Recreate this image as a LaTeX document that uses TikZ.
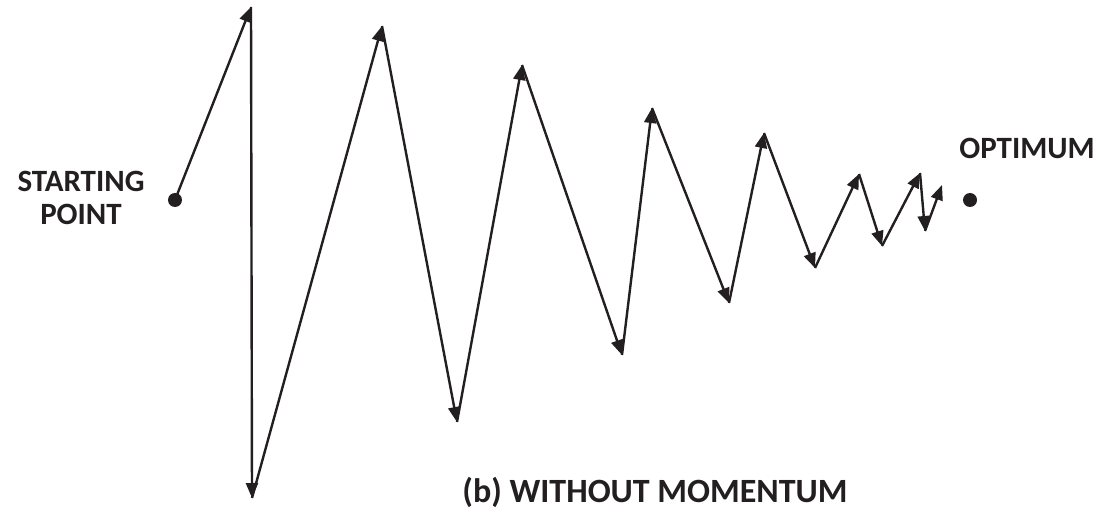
\documentclass[tikz,border=0pt]{standalone}
\usepackage{fontspec}
\setmainfont{Carlito}
\usetikzlibrary{arrows.meta}
\definecolor{ink}{RGB}{35,31,32}
\tikzset{
  stepline/.style={draw=ink, line width=2.4pt, -{Triangle[length=15pt,width=12pt]}},
  dotnode/.style={circle, fill=ink, inner sep=0pt, minimum size=14pt},
  lab/.style={font=\bfseries\fontsize{31}{33}\selectfont, text=ink, align=center, inner sep=0pt},
  caption/.style={font=\bfseries\fontsize{34}{38}\selectfont, text=ink, inner sep=0pt}
}
\begin{document}
\begin{tikzpicture}[x=1pt,y=-1pt]
\useasboundingbox (0,0) rectangle (1106,513);
\node[dotnode] (start) at (175,200) {};
\node[dotnode] (opt) at (970,200) {};
\coordinate (p1) at (251,7);
\coordinate (p2) at (252,498);
\coordinate (p3) at (382,26);
\coordinate (p4) at (457,422);
\coordinate (p5) at (522,65);
\coordinate (p6) at (622,355);
\coordinate (p7) at (652,108);
\coordinate (p8) at (729,303);
\coordinate (p9) at (764,133);
\coordinate (p10) at (815,268);
\coordinate (p11) at (859,174);
\coordinate (p12) at (882,246);
\coordinate (p13) at (920,173);
\coordinate (p14) at (925,231);
\coordinate (p15) at (942,185);
\draw[stepline] (start.center) -- (p1);
\draw[stepline] (p1) -- (p2);
\draw[stepline] (p2) -- (p3);
\draw[stepline] (p3) -- (p4);
\draw[stepline] (p4) -- (p5);
\draw[stepline] (p5) -- (p6);
\draw[stepline] (p6) -- (p7);
\draw[stepline] (p7) -- (p8);
\draw[stepline] (p8) -- (p9);
\draw[stepline] (p9) -- (p10);
\draw[stepline] (p10) -- (p11);
\draw[stepline] (p11) -- (p12);
\draw[stepline] (p12) -- (p13);
\draw[stepline] (p13) -- (p14);
\draw[stepline] (p14) -- (p15);
\node[lab, anchor=base] (startlab) at (81,192) {STARTING};
\node[lab, anchor=base] (pointlab) at (81,225) {POINT};
\node[lab, anchor=base] (optlab) at (1027,159) {OPTIMUM};
\node[caption, anchor=base] (cap) at (655,502) {(b) WITHOUT MOMENTUM};
\end{tikzpicture}
\end{document}
